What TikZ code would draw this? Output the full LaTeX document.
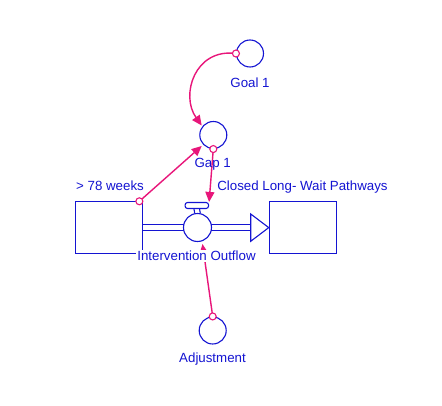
\documentclass[tikz,border=0pt]{standalone}
\usepackage{fontspec}
\setmainfont{Liberation Sans}
\usetikzlibrary{arrows.meta,calc}
\definecolor{sdblue}{RGB}{20,20,210}
\definecolor{sdpink}{RGB}{232,22,122}
\tikzset{
  aux/.style={circle,draw=sdblue,line width=1.1pt,minimum size=27pt,inner sep=0pt},
  stockbox/.style={draw=sdblue,line width=1.1pt,minimum width=67pt,minimum height=51.5pt,inner sep=0pt,fill=white},
  lbl/.style={text=sdblue,font=\fontsize{13.3}{15}\selectfont,anchor=base,inner sep=0pt},
  link/.style={draw=sdpink,line width=1.4pt,-{Triangle[length=10pt,width=9pt]}},
  tail/.style={circle,draw=sdpink,line width=1.1pt,fill=white,minimum size=7pt,inner sep=0pt},
}
\begin{document}
\begin{tikzpicture}[x=1pt,y=-1pt]
\useasboundingbox[fill=white] (0,0) rectangle (442,406);
% stocks
\node[stockbox] (s1) at (109,227.6) {};
\node[stockbox] (s2) at (302.8,227.6) {};
% valve
\node[aux,minimum size=28pt,fill=white] (valve) at (197.5,227.5) {};
\node[draw=sdblue,line width=1.1pt,rounded corners=2.5pt,minimum width=23.5pt,minimum height=6pt,inner sep=0pt] (vtop) at (196.8,205.5) {};
\draw[sdblue,line width=1.1pt] ($(vtop.south)+(-2.8,0)$) -- ($(valve.north)+(-2.8,0.3)$)
  ($(vtop.south)+(2.8,0)$) -- ($(valve.north)+(2.8,0.3)$);
% pipe
\draw[sdblue,line width=1.1pt] (s1.east |- 0,224.3) -- ($(valve.west)+(0.6,-3.2)$)
  (s1.east |- 0,230.7) -- ($(valve.west)+(0.6,3.2)$);
\coordinate (ab) at (250.7,227.5);
\draw[sdblue,line width=1.1pt] ($(valve.east)+(-0.6,-3.2)$) -- ($(ab)+(0,-3.2)$)
  ($(valve.east)+(-0.6,3.2)$) -- ($(ab)+(0,3.2)$);
\draw[sdblue,line width=1.1pt,fill=white,line join=miter] (250.7,214) -- (s2.west) -- (250.7,241.3) -- cycle;
% auxiliaries
\node[aux] (goal) at (250,53.5) {};
\node[aux] (gap) at (213.3,135) {};
\node[aux] (adj) at (212.7,330.5) {};
% connectors
\coordinate (cw) at ($(s1.north east)+(-3.7,0)$);
\draw[link] (goal.west) .. controls (195,48) and (180,95) .. (201.7,125.5);
\draw[link] (cw) -- (201.7,146);
\draw[link] (gap.south) -- (vtop.north east);
\draw[link] (adj.north) -- ($(valve.south)+(5,2)$);
\node[tail] at (goal.west) {};
\node[tail] at (cw) {};
\node[tail] at (gap.south) {};
\node[tail] at (adj.north) {};
% labels
\node[lbl] (lgoal) at (250,87.3) {Goal 1};
\node[lbl] (lgap) at (212.7,167.3) {Gap 1};
\node[lbl] (lweeks) at (110,190.7) {> 78 weeks};
\node[lbl] (lclosed) at (302.5,190.7) {Closed Long- Wait Pathways};
\node[lbl,fill=white,inner sep=1pt] (lflow) at (196.5,260.7) {Intervention Outflow};
\node[lbl] (ladj) at (212.5,362.3) {Adjustment};
\end{tikzpicture}
\end{document}
